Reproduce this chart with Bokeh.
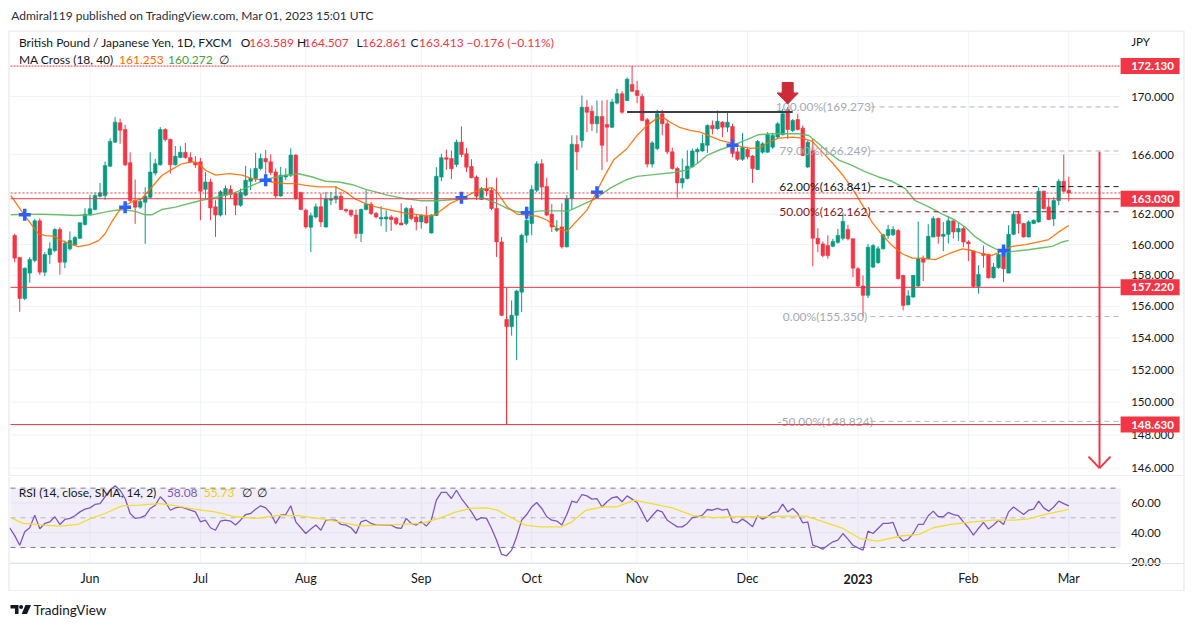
import math
from bokeh.plotting import figure
from bokeh.models import Range1d
from bokeh.layouts import column
from bokeh.embed import file_html
from bokeh.resources import INLINE
from bokeh.core.properties import value

# ---------------- data (GBP/JPY daily, FXCM, 2022-05-11 .. 2023-03-01) ----------------
opens = [
    160.59, 159.16, 156.51, 158.14, 158.96, 161.56, 158.20, 159.33, 159.61, 160.99,
    158.85, 159.72, 159.98, 160.41, 161.32, 161.96, 162.31, 163.20, 163.25, 165.22,
    166.85, 168.18, 167.72, 165.45, 162.91, 162.47, 162.80, 163.13, 164.75, 165.31,
    167.72, 167.03, 165.31, 165.80, 166.16, 165.80, 165.49, 165.51, 163.66, 164.15,
    162.49, 161.94, 163.27, 163.66, 163.38, 162.60, 163.27, 164.20, 164.38, 165.06,
    165.74, 165.51, 164.83, 163.22, 164.49, 164.61, 165.97, 163.45, 162.27, 161.14,
    161.82, 162.49, 161.16, 162.93, 163.00, 163.20, 162.31, 162.27, 161.94, 160.72,
    162.31, 162.67, 162.05, 161.69, 161.69, 161.82, 161.74, 161.42, 161.38, 162.38,
    161.82, 161.49, 161.87, 160.76, 161.92, 164.48, 165.79, 165.74, 165.33, 166.85,
    166.06, 165.20, 164.48, 162.98, 163.71, 163.59, 162.38, 160.17, 155.16, 154.71,
    155.43, 156.91, 160.61, 161.38, 163.59, 165.38, 163.85, 162.00, 160.94, 161.16,
    159.85, 163.04, 166.69, 166.97, 169.26, 168.98, 168.11, 168.62, 168.07, 167.88,
    169.54, 170.19, 169.72, 170.84, 170.42, 170.00, 168.39, 165.36, 166.42, 168.80,
    168.11, 166.19, 165.06, 164.09, 164.39, 165.17, 166.19, 166.25, 166.64, 168.00,
    167.77, 168.22, 167.88, 167.93, 166.19, 165.68, 166.35, 165.90, 164.99, 166.17,
    166.17, 166.51, 167.20, 167.36, 169.10, 167.65, 168.40, 167.81, 165.16, 166.29,
    160.41, 160.04, 159.93, 159.89, 160.15, 160.41, 160.99, 160.38, 158.42, 157.31,
    156.71, 158.53, 158.81, 159.72, 160.60, 160.64, 160.92, 157.99, 156.10, 156.60,
    157.31, 159.10, 159.07, 160.50, 161.71, 160.54, 160.67, 161.56, 160.83, 161.05,
    160.17, 159.57, 157.28, 159.40, 159.35, 157.84, 158.49, 159.61, 158.14, 160.67,
    162.00, 161.38, 160.50, 161.38, 161.49, 163.53, 162.48, 161.69, 162.91, 164.20,
    163.589]
highs = [
    160.71, 159.18, 158.50, 159.18, 161.69, 161.73, 159.50, 160.15, 161.07, 161.14,
    160.26, 160.86, 160.55, 161.47, 162.40, 163.29, 163.43, 164.09, 165.53, 167.12,
    168.57, 168.46, 168.04, 166.16, 164.32, 163.03, 163.80, 166.16, 165.72, 167.88,
    167.81, 167.10, 166.58, 166.58, 166.81, 166.16, 165.90, 165.78, 164.83, 164.38,
    162.93, 163.60, 163.93, 163.93, 163.49, 163.71, 165.24, 165.06, 166.13, 166.08,
    166.32, 166.02, 165.06, 165.17, 165.06, 166.43, 166.02, 163.50, 162.38, 162.10,
    162.71, 163.38, 163.49, 163.49, 163.88, 163.49, 162.38, 162.30, 162.31, 162.38,
    163.60, 162.82, 162.15, 162.53, 162.27, 161.94, 161.82, 162.72, 162.49, 162.60,
    162.00, 162.00, 162.53, 162.00, 165.15, 166.06, 166.33, 166.28, 167.03, 167.93,
    166.47, 165.69, 164.59, 163.81, 164.44, 163.81, 164.44, 160.50, 155.40, 156.38,
    157.06, 160.72, 162.49, 163.93, 165.56, 165.69, 164.44, 162.67, 161.60, 162.72,
    163.27, 167.32, 167.32, 170.07, 169.77, 169.38, 169.72, 169.72, 169.77, 169.84,
    170.54, 170.37, 171.33, 172.13, 171.09, 170.19, 168.52, 166.93, 169.08, 169.08,
    168.39, 166.48, 165.17, 165.74, 166.30, 166.42, 166.48, 167.38, 168.07, 168.34,
    169.03, 168.29, 168.91, 168.11, 166.48, 167.47, 166.48, 165.97, 167.00, 166.85,
    167.54, 167.49, 168.22, 169.14, 169.27, 168.45, 168.80, 167.99, 166.97, 167.08,
    161.07, 160.20, 160.60, 160.38, 161.03, 162.09, 161.30, 160.41, 158.53, 157.99,
    160.04, 160.04, 159.89, 160.71, 161.30, 161.21, 161.03, 158.03, 157.03, 158.03,
    161.52, 159.28, 161.34, 161.87, 161.78, 161.49, 161.87, 161.60, 161.43, 161.21,
    160.28, 159.61, 158.64, 159.94, 159.40, 158.79, 159.61, 159.66, 161.27, 162.22,
    162.22, 161.43, 161.60, 161.65, 163.80, 163.58, 163.09, 163.13, 164.36, 166.01,
    164.507]
lows = [
    158.85, 155.65, 156.40, 157.52, 158.85, 158.03, 157.94, 158.75, 159.50, 158.03,
    158.46, 159.61, 159.94, 160.38, 161.25, 161.91, 162.25, 163.10, 162.96, 165.15,
    166.81, 166.74, 165.22, 162.80, 161.36, 162.36, 160.05, 163.03, 164.59, 165.26,
    166.90, 164.71, 165.26, 165.76, 165.72, 165.45, 165.10, 161.60, 163.05, 161.60,
    160.50, 161.85, 161.94, 163.05, 161.94, 162.49, 163.20, 163.60, 164.15, 164.94,
    164.38, 164.61, 163.05, 163.16, 164.27, 164.49, 162.93, 162.27, 161.05, 159.51,
    161.72, 161.16, 161.10, 162.60, 162.71, 162.27, 162.10, 161.82, 160.39, 160.17,
    162.25, 161.94, 161.72, 161.20, 160.83, 160.89, 161.27, 161.27, 161.27, 161.60,
    160.94, 161.05, 161.38, 160.72, 161.87, 164.21, 164.98, 164.35, 165.15, 165.83,
    164.82, 164.40, 162.94, 162.94, 163.20, 162.27, 159.19, 155.37, 148.63, 154.14,
    152.60, 155.64, 160.11, 160.61, 163.48, 162.94, 161.87, 160.83, 160.83, 159.74,
    159.81, 162.31, 164.95, 166.48, 167.54, 167.61, 167.47, 164.95, 165.51, 167.81,
    169.45, 168.80, 169.68, 170.30, 169.54, 168.29, 165.13, 165.13, 166.30, 167.32,
    166.03, 164.99, 163.10, 163.71, 164.32, 165.13, 165.40, 166.19, 166.12, 167.38,
    167.70, 167.20, 167.54, 165.81, 165.58, 165.58, 165.68, 164.09, 164.95, 166.06,
    166.13, 166.40, 167.08, 167.31, 167.08, 167.54, 167.65, 165.90, 165.09, 158.59,
    159.50, 159.17, 159.07, 159.82, 160.04, 160.27, 160.27, 157.88, 157.24, 155.35,
    156.54, 158.46, 158.75, 159.67, 160.38, 160.55, 157.73, 155.74, 156.06, 156.54,
    157.24, 157.63, 159.01, 160.46, 160.06, 159.57, 160.06, 160.39, 160.24, 159.83,
    158.92, 157.24, 156.82, 158.49, 157.78, 157.78, 158.42, 157.56, 158.14, 160.61,
    160.72, 160.46, 160.46, 161.34, 161.43, 162.31, 161.60, 161.21, 162.59, 163.47,
    162.861]
closes = [
    159.11, 156.51, 158.46, 159.03, 161.56, 158.20, 159.35, 159.72, 160.99, 158.85,
    160.09, 160.26, 160.46, 161.43, 162.00, 162.36, 163.25, 163.43, 165.26, 166.90,
    168.22, 167.67, 165.31, 162.91, 162.47, 162.85, 163.20, 164.82, 165.38, 167.72,
    167.03, 165.31, 165.89, 166.16, 165.80, 165.49, 165.30, 163.53, 164.15, 162.42,
    161.94, 163.49, 163.71, 163.32, 162.60, 163.45, 164.27, 164.42, 165.06, 165.74,
    165.51, 164.79, 163.22, 164.61, 164.61, 165.97, 163.05, 162.31, 161.16, 161.90,
    162.49, 161.49, 163.05, 163.05, 163.20, 162.31, 162.22, 161.94, 160.72, 162.31,
    162.67, 162.05, 161.82, 161.78, 161.82, 161.65, 161.38, 161.29, 162.38, 161.71,
    161.49, 161.92, 161.42, 161.94, 164.53, 165.79, 165.69, 165.04, 166.85, 166.01,
    165.15, 164.44, 163.20, 163.71, 163.55, 162.38, 160.17, 155.43, 154.71, 155.43,
    156.98, 160.61, 161.60, 163.64, 165.38, 163.81, 161.94, 161.16, 161.05, 159.85,
    163.05, 166.71, 166.19, 169.26, 168.91, 168.11, 168.62, 166.64, 167.88, 169.61,
    170.19, 168.91, 171.21, 170.37, 170.07, 168.34, 165.36, 166.80, 168.80, 168.11,
    166.19, 165.06, 164.09, 164.39, 165.22, 166.25, 166.35, 166.76, 168.00, 167.77,
    168.29, 167.88, 168.22, 166.08, 165.68, 166.48, 165.85, 165.06, 166.90, 166.74,
    167.36, 167.31, 168.11, 168.80, 167.72, 168.34, 167.72, 165.95, 166.85, 160.41,
    160.04, 159.28, 159.28, 160.20, 160.60, 161.52, 160.38, 158.46, 157.31, 156.71,
    159.82, 159.93, 159.72, 160.64, 160.99, 160.99, 157.78, 156.06, 156.67, 157.99,
    159.07, 158.85, 160.54, 161.71, 160.54, 160.67, 161.56, 160.83, 161.05, 160.17,
    160.06, 157.28, 158.05, 159.29, 157.84, 158.53, 159.35, 158.42, 160.67, 162.00,
    161.38, 160.50, 161.49, 161.60, 163.53, 162.37, 161.65, 162.91, 164.20, 163.53,
    163.413]

# MA Cross (18, 40): values at these bar positions
ma18_x = [-0.8, 2.1, 4.7, 6.1, 7.7, 9.4, 11, 12.7, 14.7, 16.7, 18, 19.3, 20.7, 22, 23.3,
          25.3, 27.3, 29.3, 31.3, 33.3, 35.4, 36.7, 38, 40, 42.7, 45.3, 47.3, 49.3, 51.3,
          54, 56, 57.9, 60.6, 63.9, 65.9, 67.9, 69.9, 71.9, 77.5, 82.8, 83.9, 86.8, 89.5,
          92.1, 93.8, 95.1, 96.1, 98.1, 100.1, 102.1, 104.1, 106.1, 108.1, 110.1, 114,
          115.4, 117.4, 119.3, 122, 124, 126, 128, 129.3, 130.6, 132.6, 134.6, 136.6,
          138.6, 140.6, 142.6, 144.6, 146.6, 148.6, 150.2, 152.2, 154.9, 156.9, 158.9,
          160.9, 162.9, 164.9, 166.9, 168.9, 170.8, 172.8, 174.8, 176.8, 178.8, 180.8,
          183.4, 186.1, 188.8, 190.7, 192.7, 194.7, 196.7, 198.7, 201.4, 204, 206, 208, 210]
ma18_v = [163.25, 161.85, 160.71, 160.59, 160.55, 160.26, 160.05, 159.87, 159.98, 160.26,
          160.71, 161.47, 162.19, 162.60, 162.80, 163.03, 163.80, 164.59, 165.00, 165.38,
          165.53, 165.38, 164.94, 164.61, 164.71, 164.61, 164.38, 164.27, 164.15, 164.04,
          164.04, 163.93, 163.82, 163.82, 163.49, 163.00, 162.71, 162.49, 162.09, 161.87,
          162.00, 162.72, 163.13, 163.55, 163.71, 163.77, 163.48, 162.49, 162.00, 161.94,
          161.87, 161.60, 161.05, 160.89, 162.27, 163.15, 164.48, 165.63, 166.42, 167.32,
          168.00, 168.50, 168.52, 168.22, 167.84, 167.66, 167.54, 167.25, 166.97, 166.80,
          166.57, 166.42, 166.48, 166.85, 167.12, 167.20, 167.12, 166.90, 166.17, 165.45,
          164.64, 163.71, 162.60, 161.47, 160.64, 159.93, 159.40, 159.11, 159.11, 159.01,
          159.40, 159.72, 159.61, 159.40, 159.29, 159.57, 159.88, 160.00, 160.17, 160.33,
          160.83, 161.253]
ma40_x = [-0.8, 2.1, 5.4, 8.7, 12, 15.4, 18.7, 21.3, 24, 26, 27.3, 29.3, 32, 35.3, 37.3,
          40.7, 44, 47.3, 50.6, 54, 56.6, 59.3, 61.9, 64.6, 67.3, 69.9, 71.9, 74.2, 77.5,
          80.8, 84.2, 87.5, 90.8, 93.5, 96.1, 98.1, 100.1, 102.1, 104.7, 107.4, 110.4,
          115.4, 118.7, 122, 124, 127.3, 131.3, 133.9, 136, 138, 140.6, 142.6, 145.4,
          148.2, 150.9, 153.5, 156.2, 158.2, 160.2, 162.2, 164.2, 166.8, 169.5, 172.1,
          174.8, 177.4, 179.4, 182.1, 184.8, 187.4, 189.4, 191.4, 193.4, 195.4, 197.4,
          199.4, 202, 204.7, 206.7, 208.7, 210]
ma40_v = [161.96, 161.99, 162.00, 161.96, 161.91, 161.96, 162.19, 162.31, 162.19, 161.96,
          161.96, 162.31, 162.47, 162.76, 162.93, 163.16, 163.45, 163.93, 164.38, 164.61,
          164.71, 164.49, 164.20, 164.15, 163.97, 163.66, 163.49, 163.27, 163.05, 162.90,
          162.90, 162.98, 163.05, 163.05, 162.72, 162.38, 162.16, 162.09, 162.22, 162.22,
          162.22, 162.98, 163.76, 164.32, 164.53, 164.65, 164.79, 164.95, 165.40, 165.97,
          166.35, 166.57, 166.95, 167.36, 167.43, 167.43, 167.43, 167.31, 166.74, 166.13,
          165.63, 165.27, 164.83, 164.49, 164.20, 163.71, 162.90, 162.48, 162.00, 161.60,
          161.13, 160.50, 160.06, 159.72, 159.50, 159.57, 159.66, 159.79, 159.88, 160.17,
          160.272]
cross_x = [2, 22, 50, 89, 102, 116, 143, 197]
cross_y = [161.96, 162.47, 164.27, 163.10, 162.09, 163.47, 166.64, 159.61]

# RSI(14) for bars -1 .. 210 and its SMA(14)
rsi_v = [
    43.3, 38.0, 31.5, 40.6, 43.3, 51.8, 42.6, 46.2, 47.3, 50.7,
    45.5, 48.9, 49.6, 51.4, 54.0, 55.8, 56.7, 59.0, 59.6, 64.2,
    68.6, 71.6, 68.6, 63.0, 52.9, 49.6, 50.1, 51.4, 56.3, 58.5,
    64.2, 60.8, 55.1, 56.7, 57.3, 56.3, 55.1, 54.0, 47.3, 48.4,
    43.3, 41.6, 47.8, 48.4, 47.8, 45.1, 48.4, 52.2, 52.9, 55.8,
    58.1, 56.7, 52.9, 46.2, 51.8, 52.2, 58.1, 47.3, 43.3, 39.4,
    42.4, 45.1, 41.6, 48.4, 48.4, 48.4, 45.5, 45.1, 43.3, 39.4,
    47.3, 48.4, 46.2, 45.1, 45.1, 45.1, 45.1, 43.3, 42.8, 49.6,
    46.2, 45.1, 47.3, 44.4, 48.4, 61.9, 67.1, 67.1, 63.0, 68.6,
    63.0, 58.5, 54.0, 48.4, 50.1, 49.6, 42.8, 34.9, 25.3, 24.4,
    28.2, 37.2, 48.4, 52.2, 57.3, 60.3, 56.3, 50.7, 48.4, 47.8,
    45.1, 52.2, 61.2, 60.3, 65.7, 64.8, 62.6, 63.0, 57.3, 60.8,
    63.5, 64.2, 60.8, 64.8, 62.6, 60.3, 54.0, 47.3, 51.4, 55.1,
    54.0, 48.4, 46.2, 43.9, 43.9, 46.2, 50.1, 50.7, 51.8, 55.6,
    55.1, 56.3, 55.1, 55.8, 47.3, 46.6, 49.1, 46.9, 43.9, 51.4,
    49.1, 50.7, 53.4, 54.0, 59.2, 54.0, 56.3, 52.9, 46.6, 47.3,
    31.5, 30.4, 28.8, 31.5, 33.8, 34.9, 39.4, 35.6, 31.5, 29.7,
    28.2, 41.0, 39.4, 42.8, 46.2, 46.2, 46.9, 37.9, 34.3, 35.6,
    39.4, 45.5, 45.5, 51.4, 54.5, 50.7, 50.7, 53.6, 52.2, 51.4,
    47.3, 43.3, 38.3, 42.8, 46.9, 42.4, 45.1, 48.4, 45.5, 54.0,
    57.3, 54.7, 52.2, 55.1, 55.8, 61.2, 56.7, 54.5, 57.3, 61.2,
    59.6, 58.08]
rsi_sma_x = [-0.7, 1.7, 5.8, 9.2, 12.6, 15.2, 18, 21.4, 24.8, 28.9, 32.3, 35.8, 39.9, 44,
             48.1, 52.2, 56.4, 60.5, 64.6, 68.7, 72.9, 77, 81.1, 84.5, 88, 90.7, 94.1, 96.2,
             99, 101.7, 104.7, 108.9, 111, 113.8, 117.2, 120, 123.4, 126.9, 131, 135.2,
             139.4, 143.5, 149.1, 153.2, 157.7, 160.1, 165, 168.4, 171.9, 176.8, 180.2, 183,
             186.5, 190, 194.8, 198.9, 201.7, 205.1, 210]
rsi_sma_v = [50.0, 46.2, 45.1, 44.4, 45.5, 49.6, 52.9, 58.1, 58.5, 59.6, 58.1, 55.8, 54.0,
             50.7, 49.6, 51.4, 51.4, 49.6, 47.3, 44.6, 45.1, 45.5, 46.2, 49.6, 54.0, 56.3,
             56.7, 55.1, 50.0, 45.1, 43.9, 43.9, 47.3, 55.1, 57.3, 57.3, 61.9, 59.6, 56.7,
             51.4, 50.1, 50.7, 50.7, 51.1, 51.1, 48.4, 42.8, 36.0, 34.3, 37.9, 38.8, 43.3,
             45.5, 46.9, 48.4, 48.4, 49.1, 52.2, 55.73]

month_ticks = [15, 37, 58, 81, 103, 124, 146, 168, 190, 210]
month_labels = ["Jun", "Jul", "Aug", "Sep", "Oct", "Nov", "Dec", "2023", "Feb", "Mar"]
price_ticks = [146, 148, 150, 152, 154, 156, 158, 160, 162, 166, 170]
rsi_ticks = [20, 40, 60]

hline_prices = [172.13, 163.03, 157.22, 148.63]
hline_dashes = ["2 1", "solid", "solid", "solid"]
fib_texts = ["100.00%(169.273)", "79.00%(166.249)", "62.00%(163.841)",
             "50.00%(162.162)", "0.00%(155.350)", "-50.00%(148.824)"]
fib_prices = [169.273, 166.249, 163.841, 162.162, 155.350, 148.824]
level_line_bars = [122, 155]
level_line_price = 168.93
drop_line_bar = 98
target_arrow_prices = [166.2, 146.0]

assert len(opens) == len(highs) == len(lows) == len(closes) == 211
assert len(rsi_v) == 212 and len(ma18_x) == len(ma18_v) and len(ma40_x) == len(ma40_v)
assert len(rsi_sma_x) == len(rsi_sma_v)

# ---------------- geometry helpers (page pixels -> data) ----------------
BAR_PX, X_ORIGIN = 5.0195, 14.2
LN_PX, Y_REF_PX, Y_REF = 2442.0, 96.0, 170.0
RSI_PX, RSI_MID_PX = 1.483, 517.3


def bx(page_x):
    return (page_x - X_ORIGIN) / BAR_PX


def py(page_y):
    return Y_REF * math.exp(-(page_y - Y_REF_PX) / LN_PX)


def ry(page_y):
    return 50 - (page_y - RSI_MID_PX) / RSI_PX


def lift(price, px):
    return price * math.exp(px / LN_PX)


FONT = "Lato"
DARK = "#131722"
UP, DOWN, RED = "#089981", "#f23645", "#f23645"
ORANGE, MAGREEN = "#ff6d00", "#43a047"
PURPLE, YELLOW = "#7e57c2", "#f3dc35"
GRID, BORDER = "#f0f3fa", "#e0e3eb"
PANE_L, PANE_R = bx(10), bx(1120)   # price/indicator pane, left of the scale column
LAB_X = bx(1130.7)                  # left edge of scale labels
FIG_W = 1186                        # page x 0 .. 1186


def make_fig(height, x_range, y_range, y_type="linear"):
    f = figure(width=FIG_W, height=height, x_range=x_range, y_range=y_range,
               y_axis_type=y_type, x_axis_location=None, y_axis_location=None,
               output_backend="svg", toolbar_location=None,
               min_border_left=0, min_border_right=0, min_border_top=0, min_border_bottom=0)
    f.outline_line_color = None
    f.grid.visible = False
    f.background_fill_color = "white"
    f.border_fill_color = "white"
    return f


def texts(fig, xs, ys, labels, colors, size="12px", align="left", style="normal"):
    fig.text(x=xs, y=ys, text=labels, text_color=colors, text_align=align,
             text_baseline="middle", text_font=value(FONT), text_font_size=size,
             text_font_style=style)


# ---------------- header (page y 0..30) ----------------
head = make_fig(30, Range1d(0, FIG_W), Range1d(30, 0))
texts(head, [10.7], [15], ["Admiral119 published on TradingView.com, Mar 01, 2023 15:01 UTC"],
      ["#2a2e39"], size="12px")

# ---------------- main price pane (page y 30..476) ----------------
xr = Range1d(bx(0), bx(FIG_W))
p = make_fig(446, xr, Range1d(py(476), py(30)), y_type="log")
P_TOP, P_BOT = py(30.5), py(475.5)

# grid
p.segment(x0=[PANE_L] * len(price_ticks), y0=price_ticks, x1=[PANE_R] * len(price_ticks),
          y1=price_ticks, line_color=GRID, line_width=1)
p.segment(x0=month_ticks, y0=[P_BOT] * len(month_ticks), x1=month_ticks,
          y1=[P_TOP] * len(month_ticks), line_color=GRID, line_width=1)

# candles
bars = list(range(len(opens)))
cols = [UP if c >= o else DOWN for o, c in zip(opens, closes)]
p.segment(x0=bars, y0=highs, x1=bars, y1=lows, line_color=cols, line_width=1)
p.vbar(x=bars, width=0.72, top=[max(o, c) for o, c in zip(opens, closes)],
       bottom=[min(o, c) for o, c in zip(opens, closes)],
       fill_color=cols, line_color=cols, line_width=0.6)

# MA cross
p.line(ma40_x, ma40_v, line_color="#5cb85f", line_width=1.4, line_alpha=0.9)
p.line(ma18_x, ma18_v, line_color=ORANGE, line_width=1.3, line_alpha=0.9)
p.scatter(cross_x, cross_y, marker="cross", size=12, line_width=3.5, line_color="#2962ff")

# fib retracement
fib_line_cols = ["#b2b5be", "#b2b5be", DARK, "#801922", "#b2b5be", "#b2b5be"]
fib_text_cols = ["#a6a9b1", "#a6a9b1", DARK, "#801922", "#a6a9b1", "#a6a9b1"]
k = len(fib_prices)
p.segment(x0=[bx(870)] * k, y0=fib_prices, x1=[PANE_R] * k, y1=fib_prices,
          line_color=fib_line_cols, line_width=1, line_dash="5 4")
texts(p, [bx(824.5)] * k, fib_prices, fib_texts, fib_text_cols, align="center")

# drawings
p.segment(x0=[level_line_bars[0]], y0=[level_line_price], x1=[level_line_bars[1]],
          y1=[level_line_price], line_color="#3d4048", line_width=2)
p.segment(x0=[drop_line_bar], y0=[hline_prices[2]], x1=[drop_line_bar], y1=[hline_prices[3]],
          line_color=RED, line_width=1)
for pr, dash in zip(hline_prices, hline_dashes):
    p.segment(x0=[PANE_L], y0=[pr], x1=[PANE_R], y1=[pr], line_color=RED, line_width=1,
              line_dash=dash)
p.segment(x0=[PANE_L], y0=[closes[-1]], x1=[PANE_R], y1=[closes[-1]], line_color=RED,
          line_width=1, line_dash="2 2")

# arrow-down mark above the bar-154 high
tip = lift(highs[154], 3)
shape = [(0, 0), (10.5, 11), (5.5, 11), (5.5, 21.5), (-5.5, 21.5), (-5.5, 11), (-10.5, 11)]
p.patch([154 + dx / BAR_PX for dx, dy in shape], [lift(tip, dy) for dx, dy in shape],
        fill_color="#cc2b38", line_color="#cc2b38")

# projected target arrow
ax_bar = bx(1099)
tip2 = target_arrow_prices[1]
p.segment(x0=[ax_bar, ax_bar, ax_bar], y0=[target_arrow_prices[0], tip2, tip2],
          x1=[ax_bar, ax_bar - 11 / BAR_PX, ax_bar + 11 / BAR_PX],
          y1=[tip2, lift(tip2, 11.5), lift(tip2, 11.5)],
          line_color=RED, line_width=2)

# price scale
texts(p, [LAB_X] * len(price_ticks), price_ticks, [f"{t:.3f}" for t in price_ticks],
      [DARK] * len(price_ticks), size="11.5px")
texts(p, [LAB_X], [py(41)], ["JPY"], [DARK], size="11.5px")
p.rect(x=[bx(1149.6)] * len(hline_prices), y=hline_prices, width=59, height=16,
       width_units="screen", height_units="screen", fill_color=RED, line_color=None)
texts(p, [LAB_X] * len(hline_prices), hline_prices, [f"{v:.3f}" for v in hline_prices],
      ["white"] * len(hline_prices), size="11.5px", style="bold")

# legend
legend_main = [
    ("British Pound / Japanese Yen, 1D, FXCM", 18.4, 42, DARK),
    ("O", 240.3, 42, DARK), ("163.589", 248.8, 42, RED),
    ("H", 296.6, 42, DARK), ("164.507", 303.5, 42, RED),
    ("L", 356.0, 42, DARK), ("162.861", 361.5, 42, RED),
    ("C", 410.0, 42, DARK), ("163.413", 418.5, 42, RED),
    ("\u22120.176 (\u22120.11%)", 466.0, 42, RED),
    ("MA Cross (18, 40)", 18.4, 59, DARK), ("161.253", 118.6, 59, ORANGE),
    ("160.272", 167.6, 59, MAGREEN), ("\u2205", 218.0, 59, DARK),
]
texts(p, [bx(t[1]) for t in legend_main], [py(t[2]) for t in legend_main],
      [t[0] for t in legend_main], [t[3] for t in legend_main], size="12px")

# borders: top, left, right, pane separator
bl, br = bx(8.5), bx(1183.5)
p.segment(x0=[bl, bl, br, bl], y0=[P_TOP, P_TOP, P_TOP, P_BOT],
          x1=[br, bl, br, br], y1=[P_TOP, P_BOT, P_BOT, P_BOT],
          line_color=BORDER, line_width=1)

# ---------------- RSI pane + time scale (page y 476..591) ----------------
r = make_fig(115, xr, Range1d(ry(591), ry(476)))
R_TOP, R_SEP, R_BOT = ry(476), ry(563), ry(590.5)

r.segment(x0=[PANE_L] * len(rsi_ticks), y0=rsi_ticks, x1=[PANE_R] * len(rsi_ticks),
          y1=rsi_ticks, line_color=GRID, line_width=1)
r.segment(x0=month_ticks, y0=[R_SEP] * len(month_ticks), x1=month_ticks,
          y1=[R_TOP] * len(month_ticks), line_color=GRID, line_width=1)
r.quad(left=[PANE_L], right=[PANE_R], bottom=[30], top=[70], fill_color=PURPLE,
       fill_alpha=0.1, line_color=None)
for lv, al in [(70, 1.0), (30, 1.0), (50, 0.5)]:
    r.segment(x0=[PANE_L], y0=[lv], x1=[PANE_R], y1=[lv], line_color="#787b86",
              line_alpha=al, line_width=1, line_dash="5 5")
r.line(list(range(-1, len(rsi_v) - 1)), rsi_v, line_color=PURPLE, line_width=1.3)
r.line(rsi_sma_x, rsi_sma_v, line_color=YELLOW, line_width=1.3)

texts(r, [LAB_X] * len(rsi_ticks), rsi_ticks, [f"{t:.2f}" for t in rsi_ticks],
      [DARK] * len(rsi_ticks), size="11.5px")

legend_rsi = [
    ("RSI (14, close, SMA, 14, 2)", 18.3, DARK), ("58.08", 166.4, PURPLE),
    ("55.73", 203.2, "#e9cf1c"), ("\u2205", 241.5, DARK), ("\u2205", 256.6, DARK),
]
texts(r, [bx(t[1]) for t in legend_rsi], [ry(492)] * len(legend_rsi),
      [t[0] for t in legend_rsi], [t[2] for t in legend_rsi], size="12px")

# time scale
reg = [i for i, l in enumerate(month_labels) if l != "2023"]
texts(r, [month_ticks[i] for i in reg], [ry(578)] * len(reg), [month_labels[i] for i in reg],
      [DARK] * len(reg), size="12.5px", align="center")
yi = month_labels.index("2023")
texts(r, [month_ticks[yi]], [ry(578)], [month_labels[yi]], [DARK], size="12.5px",
      align="center", style="bold")

r.segment(x0=[bl, bl, br, bl], y0=[R_SEP, R_TOP, R_TOP, R_BOT],
          x1=[br, bl, br, br], y1=[R_SEP, R_BOT, R_BOT, R_BOT],
          line_color=BORDER, line_width=1)

# ---------------- footer (page y 591..622) ----------------
foot = make_fig(31, Range1d(0, FIG_W), Range1d(622, 591))
foot.patch([10, 18, 18, 14.5, 14.5, 10], [604.5, 604.5, 613.5, 613.5, 608, 608],
           fill_color=DARK, line_color=None)
foot.scatter([20.6], [606.4], size=4, fill_color=DARK, line_color=None)
foot.patch([25, 30.5, 26.5, 21.2], [604.5, 604.5, 613.5, 613.5], fill_color=DARK,
           line_color=None)
texts(foot, [33], [609], ["TradingView"], [DARK], size="13.5px")

layout = column(head, p, r, foot)
open("out.html", "w").write(file_html(layout, INLINE, "GBPJPY"))
